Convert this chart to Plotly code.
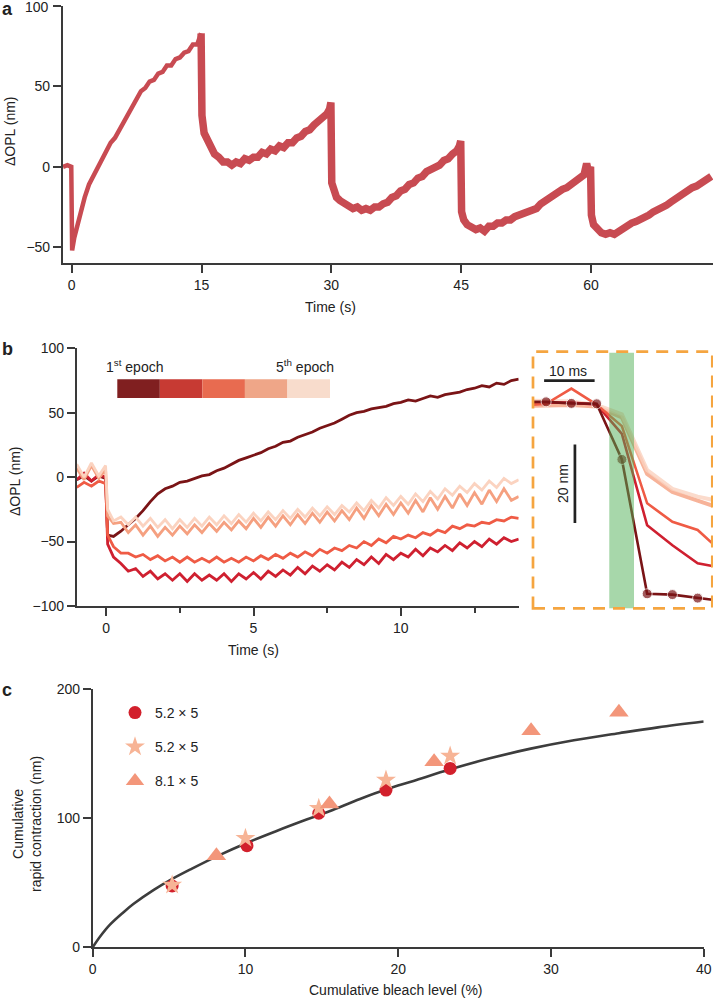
import plotly.graph_objects as go

# ---------------- Panel a data (time in s, ΔOPL in nm) ----------------
a_t = [-1.0, -0.5, -0.05, 0.05, 0.3, 0.6, 1.0, 1.5, 2.0, 2.5, 3.0, 3.5, 4.0, 4.5, 5.0, 5.5, 6.0, 6.5, 7.0, 7.5,
       8.0, 8.5, 9.0, 9.5, 10.0, 10.5, 11.0, 11.5, 12.0, 12.5, 13.0, 13.5, 14.0, 14.5, 14.8, 14.95,
       15.05, 15.3, 15.6, 16.0, 16.5, 17.0, 17.5, 18.0, 18.5, 19.0, 19.5, 20.0, 20.5, 21.0, 21.5, 22.0, 22.5,
       23.0, 23.5, 24.0, 24.5, 25.0, 25.5, 26.0, 26.5, 27.0, 27.5, 28.0, 28.5, 29.0, 29.5, 29.8, 29.95,
       30.05, 30.3, 30.6, 31.0, 31.5, 32.0, 32.5, 33.0, 33.5, 34.0, 34.5, 35.0, 35.5, 36.0, 36.5, 37.0, 37.5,
       38.0, 38.5, 39.0, 39.5, 40.0, 40.5, 41.0, 41.5, 42.0, 42.5, 43.0, 43.5, 44.0, 44.5, 44.8, 44.95,
       45.05, 45.3, 45.7, 46.2, 46.7, 47.2, 47.7, 48.2, 48.7, 49.2, 49.7, 50.2, 50.7, 51.2, 51.7, 52.2, 52.7,
       53.2, 53.7, 54.2, 54.7, 55.2, 55.7, 56.2, 56.7, 57.2, 57.7, 58.2, 58.7, 59.2, 59.5, 59.7, 59.95,
       60.05, 60.3, 60.7, 61.2, 61.7, 62.2, 62.7, 63.2, 63.7, 64.2, 64.7, 65.2, 65.7, 66.2, 66.7, 67.2, 67.7,
       68.2, 68.7, 69.2, 69.7, 70.2, 70.7, 71.2, 71.7, 72.2, 72.7, 73.2, 73.9]
a_opl = [0, 1, 0, -52, -44, -37, -28, -19, -11, -6, -1, 5, 9, 15, 18, 23, 27, 33, 37, 42,
         47, 49, 53, 54, 58, 59, 63, 63, 67, 68, 71, 72, 76, 76, 80, 83,
         32, 21, 17, 13, 8, 6, 3, 3, 1, 3, 2, 5, 4, 6, 6, 9, 8,
         11, 10, 13, 12, 15, 15, 18, 19, 22, 23, 26, 28, 30, 33, 36, 40,
         -10, -15, -19, -21, -23, -25, -26, -25, -27, -26, -27, -25, -25, -23, -22, -19, -18,
         -15, -14, -11, -10, -7, -6, -3, -2, 0, 1, 4, 5, 8, 10, 13, 16,
         -28, -33, -36, -38, -39, -38, -40, -37, -37, -35, -35, -33, -33, -31, -30, -30, -28,
         -27, -26, -23, -21, -19, -18, -16, -14, -13, -11, -10, -7, -5, 2, -3, 0,
         -30, -36, -39, -41, -42, -41, -42, -40, -38, -37, -35, -34, -33, -31, -30, -28, -27,
         -26, -24, -22, -20, -19, -17, -15, -13, -12, -10, -8, -6]
a_xticks = [0, 15, 30, 45, 60]
a_yticks = [-50, 0, 50, 100]

# ---------------- Panel b data (5 epochs) ----------------
b_t = [-1.0, -0.75, -0.5, -0.25, -0.02, 0.05,
       0.25, 0.5, 0.75, 1.0, 1.25, 1.5, 1.75, 2.0,
       2.25, 2.5, 2.75, 3.0, 3.25, 3.5, 3.75, 4.0,
       4.25, 4.5, 4.75, 5.0, 5.25, 5.5, 5.75, 6.0,
       6.25, 6.5, 6.75, 7.0, 7.25, 7.5, 7.75, 8.0,
       8.25, 8.5, 8.75, 9.0, 9.25, 9.5, 9.75, 10.0,
       10.25, 10.5, 10.75, 11.0, 11.25, 11.5, 11.75, 12.0,
       12.25, 12.5, 12.75, 13.0, 13.25, 13.5, 13.75, 14.0]
b_epoch1 = [-2, 1, -3, 1, -1, -45,
            -46, -42, -37, -32, -26, -19, -13, -9,
            -7, -4, -3, -1, 1, 2, 5, 7,
            10, 13, 15, 17, 19, 22, 24, 27,
            28, 31, 33, 35, 38, 40, 42, 45,
            48, 50, 51, 53, 54, 55, 57, 58,
            60, 59, 61, 63, 62, 64, 65, 66,
            68, 69, 71, 70, 73, 72, 75, 76]
b_epoch2 = [-2, 3, -3, 2, 0, -52,
            -62, -67, -73, -71, -77, -73, -79, -75,
            -80, -75, -81, -75, -80, -76, -80, -75,
            -81, -75, -79, -74, -79, -73, -77, -72,
            -76, -70, -75, -69, -73, -68, -72, -66,
            -70, -64, -68, -62, -67, -60, -64, -59,
            -62, -56, -61, -55, -58, -53, -57, -51,
            -55, -50, -54, -48, -52, -47, -50, -48]
b_epoch3 = [-8, -4, -7, -3, -5, -45,
            -54, -59, -59, -62, -60, -64, -61, -65,
            -62, -66, -62, -66, -63, -66, -62, -66,
            -63, -66, -62, -65, -61, -64, -60, -63,
            -59, -62, -58, -61, -56, -59, -55, -57,
            -53, -55, -50, -53, -48, -51, -46, -48,
            -45, -47, -43, -45, -41, -43, -38, -40,
            -37, -38, -35, -36, -33, -34, -31, -32]
b_epoch4 = [7, -2, 9, -1, 6, -30,
            -36, -35, -43, -37, -45, -38, -46, -39,
            -45, -38, -44, -37, -43, -36, -42, -35,
            -41, -34, -40, -32, -39, -31, -38, -30,
            -37, -29, -36, -28, -35, -27, -34, -26,
            -33, -24, -32, -22, -30, -21, -29, -20,
            -28, -18, -27, -16, -25, -15, -24, -13,
            -22, -12, -21, -10, -19, -9, -18, -15]
b_epoch5 = [10, 0, 11, 1, 9, -25,
            -34, -31, -37, -31, -38, -32, -39, -33,
            -40, -33, -39, -32, -38, -31, -37, -30,
            -36, -29, -35, -28, -34, -27, -33, -26,
            -32, -25, -31, -24, -30, -23, -29, -22,
            -27, -20, -26, -18, -24, -16, -22, -15,
            -21, -13, -19, -11, -17, -9, -14, -7,
            -12, -5, -10, -3, -8, -1, -5, -2]
b_epochs = [b_epoch1, b_epoch2, b_epoch3, b_epoch4, b_epoch5]
b_xticks = [0, 5, 10]
b_yticks = [-100, -50, 0, 50, 100]
b_legend_labels = ["1<sup>st</sup> epoch", "5<sup>th</sup> epoch"]

# ---------------- Panel b inset (ms, nm) ----------------
ins_t = [-12.6, -10, -5, 0, 5, 10, 15, 20, 22.9]
ins_e1 = [0.2, 0.2, -0.2, -0.3, -14.5, -48.8, -49.0, -49.9, -50.3]
ins_e2 = [0.0, 0.0, 0.0, -0.5, -8.0, -31.3, -36.4, -41.0, -41.7]
ins_e3 = [-0.5, -0.3, 3.6, -0.5, -6.0, -25.7, -30.4, -32.5, -35.9]
ins_e4 = [-0.8, -0.8, -0.6, -1.0, -3.8, -18.2, -22.8, -25.0, -26.3]
ins_e5 = [0.5, 0.5, 0.3, -0.6, -3.0, -17.2, -22.0, -24.0, -24.8]
ins_flash = [2.5, 7.4]          # flash window (ms)
ins_scale_ms = 10
ins_scale_nm = 20

# ---------------- Panel c data ----------------
c_circle_x = [5.2, 10.1, 14.8, 19.2, 23.4]
c_circle_y = [47.5, 78.8, 103.9, 121.9, 138.7]
c_star_x = [5.2, 10.0, 14.8, 19.2, 23.4]
c_star_y = [48.3, 84.5, 107.8, 129.7, 148.3]
c_tri_x = [8.1, 15.5, 22.35, 28.7, 34.45]
c_tri_y = [71.0, 111.1, 143.9, 167.9, 182.2]
c_fit_x = [0, 0.5, 1.13, 2, 2.66, 4, 5.21, 6.5, 8.12, 10, 12, 14, 15.5, 17.5, 19.23, 21, 23.42, 26, 28.68,
           31.5, 34.45, 37, 40]
c_fit_y = [0, 8.5, 17.5, 27, 33.5, 44.5, 53, 61, 70.5, 80.5, 90, 99, 105.5, 115, 122.5, 129, 138, 146.5,
           154, 160.5, 166, 170.5, 175]
c_names = ["5.2 × 5", "5.2 × 5", "8.1 × 5"]

# ---------------- styles ----------------
W, H = 713, 999
FONT = "Liberation Sans, Arial, Helvetica, sans-serif"
AX = "#3a3a3a"
TXT = "#222222"
A_COLOR = "#C84B52"
EPOCH_LINE = ["#7A1416", "#CF2030", "#EF5B45", "#F5A080", "#FBD3C0"]
EPOCH_BAR = ["#801F20", "#C73A33", "#E86B50", "#EFA688", "#F8DCCC"]
C_COLORS = ["#D2202C", "#F7B496", "#F3967A"]


def px_x(x):
    return x / W


def px_y(y):
    return 1 - y / H


def axis(**kw):
    d = dict(showline=True, linecolor=AX, linewidth=1.5, ticks="outside", ticklen=8, tickwidth=1.5,
             tickcolor=AX, showgrid=False, zeroline=False, automargin=False,
             tickfont=dict(size=14, color=TXT, family=FONT))
    d.update(kw)
    return d


def minus(v):
    return str(v).replace("-", "\u2212")


fig = go.Figure()

# ---- panel a ----
split = a_t.index(14.95)
fig.add_trace(go.Scatter(x=a_t[:split + 1], y=a_opl[:split + 1], mode="lines",
                         line=dict(color=A_COLOR, width=4.5), xaxis="x", yaxis="y", showlegend=False))
fig.add_trace(go.Scatter(x=a_t[split:], y=a_opl[split:], mode="lines",
                         line=dict(color=A_COLOR, width=7.5), xaxis="x", yaxis="y", showlegend=False))

# ---- panel b ----
for vals, col in zip(b_epochs, EPOCH_LINE):
    fig.add_trace(go.Scatter(x=b_t, y=vals, mode="lines", line=dict(color=col, width=2.8),
                             xaxis="x2", yaxis="y2", showlegend=False))

# ---- inset ----
for vals, col, wdt, op in [(ins_e4, EPOCH_LINE[3], 4, 0.8), (ins_e5, EPOCH_LINE[4], 4, 0.8),
                           (ins_e2, EPOCH_LINE[1], 2.6, 1), (ins_e3, EPOCH_LINE[2], 2.6, 1)]:
    fig.add_trace(go.Scatter(x=ins_t, y=vals, mode="lines", line=dict(color=col, width=wdt), opacity=op,
                             xaxis="x3", yaxis="y3", showlegend=False))
fig.add_trace(go.Scatter(x=ins_t, y=ins_e1, mode="lines+markers", line=dict(color=EPOCH_LINE[0], width=2.6),
                         marker=dict(color=EPOCH_LINE[0], size=[0, 10, 10, 10, 10, 10, 10, 10, 0]),
                         xaxis="x3", yaxis="y3", showlegend=False))

# ---- panel c ----
fig.add_trace(go.Scatter(x=c_fit_x, y=c_fit_y, mode="lines", line=dict(color="#3d3d3d", width=2.6, shape="spline"),
                         xaxis="x4", yaxis="y4", showlegend=False))
for xs, ys, sym, size, col, name, grp in [
        (c_circle_x, c_circle_y, "circle", 13, C_COLORS[0], c_names[0], "g1"),
        (c_star_x, c_star_y, "star", 15, C_COLORS[1], c_names[1], "g2"),
        (c_tri_x, c_tri_y, "triangle-up", 17, C_COLORS[2], c_names[2], "g3")]:
    fig.add_trace(go.Scatter(x=xs, y=ys, mode="markers", name=name, legendgroup=grp,
                             marker=dict(symbol=sym, size=size, color=col, line=dict(width=0)),
                             xaxis="x4", yaxis="y4"))

# ---- axes ----
a_ytext = [minus(v) for v in a_yticks]
a_ytext[-1] = ""   # top label drawn as an annotation so it is not dropped at the page edge
layout = dict(
    xaxis=axis(domain=[px_x(62.7), 1.0], range=[-1.04, 74.1], tickvals=a_xticks, anchor="y"),
    yaxis=axis(domain=[px_y(263.3), px_y(6)], range=[-60, 100], tickvals=a_yticks,
               ticktext=a_ytext, anchor="x"),
    xaxis2=axis(domain=[px_x(76.7), px_x(518.7)], range=[-1, 14], tickvals=b_xticks, anchor="y2",
                minor=dict(ticks="outside", ticklen=5, tickwidth=1.5, tickcolor=AX, dtick=2.5, tick0=0)),
    yaxis2=axis(domain=[px_y(606), px_y(348.3)], range=[-100, 100], tickvals=b_yticks,
                ticktext=[minus(v) for v in b_yticks], anchor="x2"),
    xaxis3=dict(domain=[px_x(533), px_x(712.3)], range=[ins_t[0], ins_t[-1]], visible=False, anchor="y3",
                automargin=False),
    yaxis3=dict(domain=[px_y(608.3), px_y(351.7)], range=[-52.5, 13], visible=False, anchor="x3",
                automargin=False),
    xaxis4=axis(domain=[px_x(92.7), px_x(703.7)], range=[0, 40], tickvals=[0, 10, 20, 30, 40], anchor="y4"),
    yaxis4=axis(domain=[px_y(947.3), px_y(689.3)], range=[0, 200], tickvals=[0, 100, 200], anchor="x4"),
)

shapes = []
# epoch colour bar (legend for panel b)
bar_x0, bar_x1, bar_y0, bar_y1 = 117.3, 330.0, 379.3, 398.0
bw = (bar_x1 - bar_x0) / len(EPOCH_BAR)
for i, col in enumerate(EPOCH_BAR):
    shapes.append(dict(type="rect", xref="paper", yref="paper",
                       x0=px_x(bar_x0 + i * bw), x1=px_x(bar_x0 + (i + 1) * bw),
                       y0=px_y(bar_y1), y1=px_y(bar_y0), fillcolor=col, line=dict(width=0)))
# flash window
shapes.append(dict(type="rect", xref="x3", yref="paper", x0=ins_flash[0], x1=ins_flash[1],
                   y0=px_y(608.3), y1=px_y(352.7), fillcolor="rgba(80,175,85,0.5)", line=dict(width=0),
                   layer="above"))
# inset frame
shapes.append(dict(type="rect", xref="paper", yref="paper", x0=px_x(533), x1=px_x(712.3),
                   y0=px_y(608.3), y1=px_y(351.7), line=dict(color="#F5A540", width=2.7, dash="12px,8px"),
                   fillcolor="rgba(0,0,0,0)", layer="above"))
# scale bars
shapes.append(dict(type="line", xref="x3", yref="y3", x0=-10.4, x1=-10.4 + ins_scale_ms, y0=5.6, y1=5.6,
                   line=dict(color="#222", width=2.7)))
shapes.append(dict(type="line", xref="x3", yref="y3", x0=-4.3, x1=-4.3, y0=-10.7, y1=-10.7 - ins_scale_nm,
                   line=dict(color="#222", width=2.7)))

ann = []


def text(x, y, s, size=14, bold=False, angle=0, xanchor="center", yanchor="middle"):
    ann.append(dict(x=px_x(x), y=px_y(y), xref="paper", yref="paper", text=("<b>%s</b>" % s) if bold else s,
                    showarrow=False, textangle=angle, xanchor=xanchor, yanchor=yanchor,
                    font=dict(size=size, color=TXT, family=FONT)))


text(0, 9, "a", size=18, bold=True, xanchor="left")
text(0, 349, "b", size=18, bold=True, xanchor="left")
text(0, 690, "c", size=18, bold=True, xanchor="left")
text(51, 7.5, str(a_yticks[-1]), xanchor="right")
text(10, 131, "ΔOPL (nm)", angle=-90)
text(330, 307, "Time (s)")
text(15, 481, "ΔOPL (nm)", angle=-90)
text(253, 650, "Time (s)")
text(104, 366, b_legend_labels[0], xanchor="left")
text(274, 366, b_legend_labels[1], xanchor="left")
text(568, 371, "10 ms")
text(563, 484, "20 nm", angle=-90)
text(27, 824, "Cumulative<br>rapid contraction (nm)", angle=-90)
text(396, 990, "Cumulative bleach level (%)")

fig.update_layout(
    width=W, height=H, margin=dict(l=0, r=0, t=0, b=0, autoexpand=False),
    paper_bgcolor="white", plot_bgcolor="white",
    font=dict(family=FONT, size=14, color=TXT),
    shapes=shapes, annotations=ann,
    legend=dict(x=px_x(115), y=px_y(697), xanchor="left", yanchor="top", bgcolor="rgba(0,0,0,0)",
                font=dict(size=14, color=TXT, family=FONT), tracegroupgap=13, itemsizing="trace"),
    **layout,
)

fig.write_html("out.html")
